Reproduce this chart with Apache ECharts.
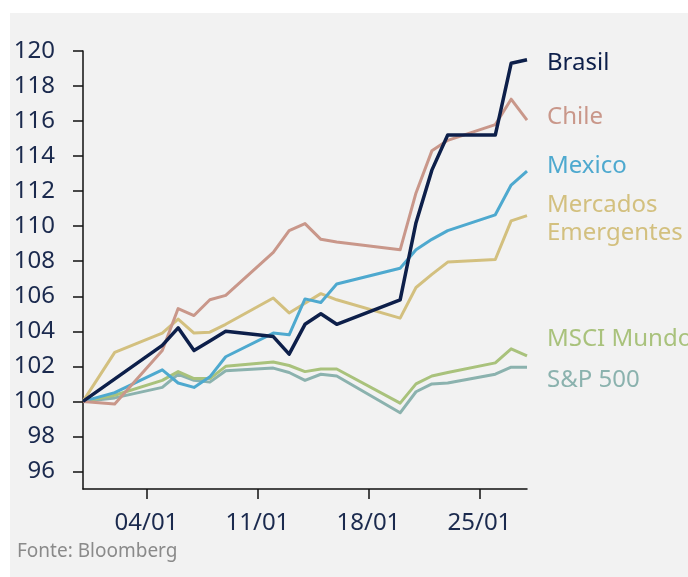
<!DOCTYPE html>
<html>
<head>
<meta charset="utf-8">
<script src="https://cdn.jsdelivr.net/npm/echarts@6/dist/echarts.min.js"></script>
<style>
  body { margin: 0; background: #ffffff; }
  #bg { position: absolute; left: 10px; top: 13px; right: 0; bottom: 0; background: #f2f2f2; }
  #chart { position: absolute; left: 0; top: 0; width: 688px; height: 577px; }
</style>
</head>
<body>
<div id="bg"></div>
<div id="chart"></div>
<script>
// dias (31/12 a 28/01), null = sem pregão
const dates = ["31/12", "01/01", "02/01", "03/01", "04/01", "05/01", "06/01", "07/01", "08/01", "09/01",
  "10/01", "11/01", "12/01", "13/01", "14/01", "15/01", "16/01", "17/01", "18/01", "19/01",
  "20/01", "21/01", "22/01", "23/01", "24/01", "25/01", "26/01", "27/01", "28/01"];
const xTickLabels = ["04/01", "11/01", "18/01", "25/01"];
const yTickValues = [96, 98, 100, 102, 104, 106, 108, 110, 112, 114, 116, 118, 120];

const n = null;
const brasil = [100, n, n, n, n, 103.2, 104.2, 102.9, 103.45, 104.0, n, n, 103.7, 102.7, 104.4, 105.0, 104.4, n, n, n, 105.8, 110.2, 113.2, 115.2, n, n, 115.2, 119.3, 119.5];
const chile = [100, n, 99.85, n, n, 102.9, 105.3, 104.9, 105.8, 106.05, n, n, 108.5, 109.75, 110.15, 109.25, 109.1, n, n, n, 108.65, 111.9, 114.3, 114.9, n, n, 115.8, 117.25, 116.05];
const mexico = [100, n, 100.5, n, n, 101.8, 101.05, 100.8, 101.4, 102.55, n, n, 103.9, 103.8, 105.85, 105.65, 106.7, n, n, n, 107.6, 108.65, 109.25, 109.75, n, n, 110.65, 112.35, 113.15];
const emergentes = [100, n, 102.8, n, n, 103.9, 104.7, 103.9, 103.95, 104.4, n, n, 105.9, 105.05, 105.6, 106.15, 105.8, n, n, n, 104.75, 106.5, 107.25, 107.95, n, n, 108.1, 110.3, 110.6];
const msciMundo = [100, n, 100.35, n, n, 101.2, 101.7, 101.3, 101.3, 102.0, n, n, 102.25, 102.05, 101.7, 101.85, 101.85, n, n, n, 99.9, 101.0, 101.45, 101.65, n, n, 102.2, 103.0, 102.6];
const sp500 = [100, n, 100.2, n, n, 100.8, 101.55, 101.2, 101.1, 101.75, n, n, 101.9, 101.65, 101.2, 101.55, 101.45, n, n, n, 99.35, 100.55, 101.0, 101.05, n, n, 101.55, 101.95, 101.95];

const font = "Noto Sans";
const navy = "#1b2a4e";

function line(name, data, color, width, label, dy) {
  return {
    name: name,
    type: "line",
    data: data,
    connectNulls: true,
    symbol: "none",
    lineStyle: { color: color, width: width, join: "round" },
    endLabel: {
      show: true,
      formatter: label,
      color: color,
      fontFamily: font,
      fontSize: 24,
      lineHeight: 28,
      distance: 20,
      offset: [0, dy],
    },
  };
}

const chart = echarts.init(document.getElementById("chart"));
const option = {
  animation: false,
  grid: { left: 83, right: 161, top: 51, bottom: 88 },
  xAxis: {
    type: "category",
    data: dates,
    boundaryGap: false,
    axisLine: { lineStyle: { color: "#111", width: 1.5 } },
    axisTick: {
      length: 10,
      interval: (i, v) => xTickLabels.includes(v),
      lineStyle: { color: "#111", width: 1.5 },
    },
    axisLabel: {
      interval: (i, v) => xTickLabels.includes(v),
      color: navy,
      fontFamily: font,
      fontSize: 24,
      margin: 22,
    },
  },
  yAxis: {
    type: "value",
    min: 95,
    max: 120,
    splitLine: { show: false },
    axisLine: { show: true, lineStyle: { color: "#111", width: 1.5 } },
    axisTick: {
      show: true,
      length: 10,
      customValues: yTickValues,
      lineStyle: { color: "#111", width: 1.5 },
    },
    axisLabel: {
      customValues: yTickValues,
      color: navy,
      fontFamily: font,
      fontSize: 24,
      margin: 28,
    },
  },
  graphic: [
    {
      type: "text",
      left: 17,
      top: 542,
      style: { text: "Fonte: Bloomberg", fill: "#8a8a8a", font: "19px 'Noto Sans'" },
    },
  ],
  series: [
    line("S&P 500", sp500, "#8bb2ae", 3, "S&P 500", 13),
    line("MSCI Mundo", msciMundo, "#a9c27c", 3, "MSCI Mundo", -17),
    line("Mercados Emergentes", emergentes, "#d3c07f", 3, "Mercados\nEmergentes", 3),
    line("Mexico", mexico, "#4ea9cf", 3, "Mexico", -5),
    line("Chile", chile, "#c9978a", 3, "Chile", -3),
    line("Brasil", brasil, "#0d1f4a", 3.5, "Brasil", 3),
  ],
};
chart.setOption(option);
</script>
</body>
</html>
